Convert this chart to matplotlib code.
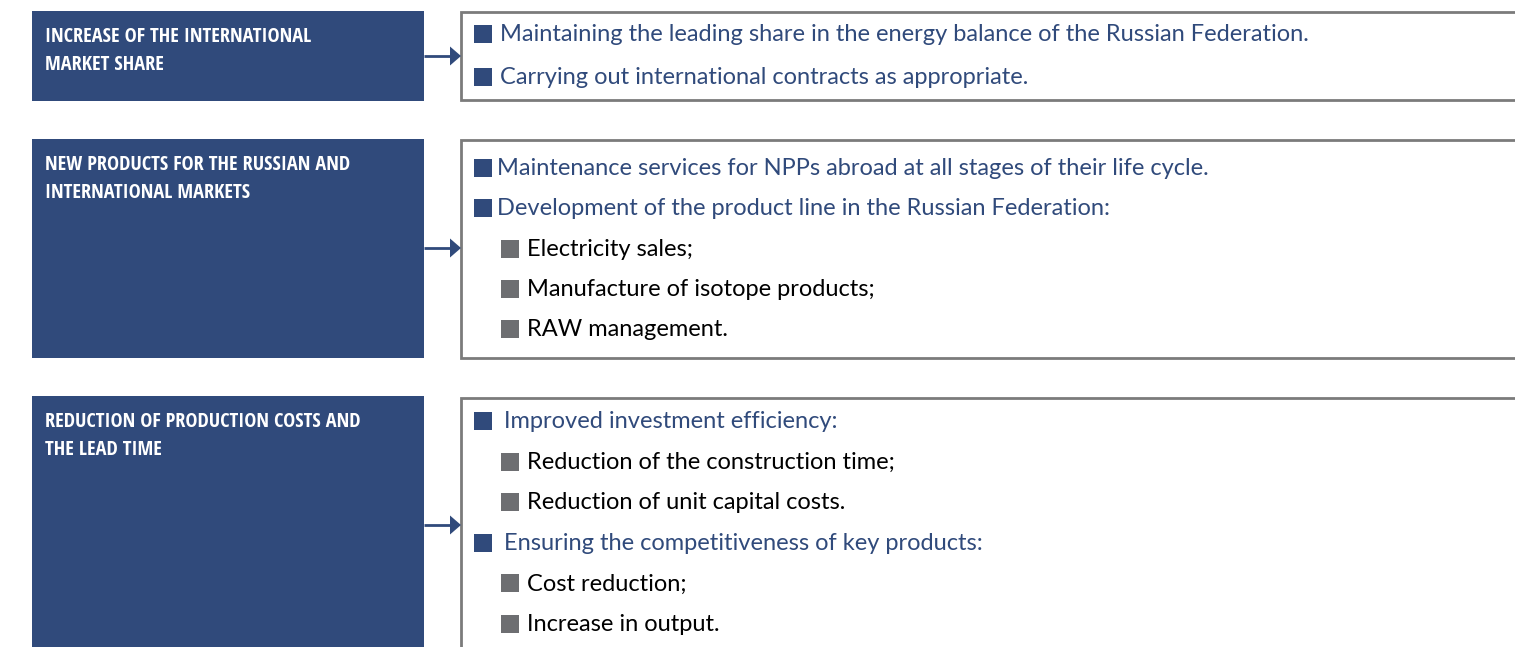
import matplotlib
matplotlib.use("Agg")
import matplotlib.pyplot as plt
from matplotlib.patches import Rectangle, Polygon

# ---------------- content ----------------
titles = [
    ["INCREASE OF THE INTERNATIONAL", "MARKET SHARE"],
    ["NEW PRODUCTS FOR THE RUSSIAN AND", "INTERNATIONAL MARKETS"],
    ["REDUCTION OF PRODUCTION COSTS AND", "THE LEAD TIME"],
]
items_1 = [
    (1, "Maintaining the leading share in the energy balance of the Russian Federation."),
    (1, "Carrying out international contracts as appropriate."),
]
items_2 = [
    (1, "Maintenance services for NPPs abroad at all stages of their life cycle."),
    (1, "Development of the product line in the Russian Federation:"),
    (2, "Electricity sales;"),
    (2, "Manufacture of isotope products;"),
    (2, "RAW management."),
]
items_3 = [
    (1, "Improved investment efficiency:"),
    (2, "Reduction of the construction time;"),
    (2, "Reduction of unit capital costs."),
    (1, "Ensuring the competitiveness of key products:"),
    (2, "Cost reduction;"),
    (2, "Increase in output."),
]
items = [items_1, items_2, items_3]

# ---------------- style / layout ----------------
BLUE = "#304a7b"
GRAY_BORDER = "#7b7b7b"
GRAY_BULLET = "#6d6e71"
W, H = 1515, 647

left_x = (32, 424)
right_x = (461, 1522)
left_y = [(11, 101), (139, 358), (396, 660)]
right_y = [(12, 100), (140, 358), (398, 670)]
arrow_y = [56, 248, 525]
item_first = [33, 167, 420]
item_step = [43, 40.3, 40.6]
l1_text_x = [500, 497, 504]

fig = plt.figure(figsize=(W / 100, H / 100), dpi=100)
ax = fig.add_axes([0, 0, 1, 1])
ax.set_xlim(0, W)
ax.set_ylim(H, 0)
ax.axis("off")

renderer = fig.canvas.get_renderer()

def fit_size(s, target, **kw):
    t = ax.text(0, 0, s, fontsize=20, **kw)
    w = t.get_window_extent(renderer).width
    t.remove()
    return 20 * target / w

title_kw = dict(family=["Open Sans Condensed", "Roboto Condensed", "DejaVu Sans"],
                weight="bold", stretch="condensed")
body_kw = dict(family=["Lato", "DejaVu Sans"])
title_fs = fit_size("INCREASE OF THE INTERNATIONAL", 267, **title_kw)
body_fs = fit_size(items_1[0][1], 815, **body_kw)

for b in range(3):
    y0, y1 = left_y[b]
    ax.add_patch(Rectangle((left_x[0], y0), left_x[1] - left_x[0], y1 - y0,
                           facecolor=BLUE, edgecolor="none"))
    for k, line in enumerate(titles[b]):
        ax.text(45, y0 + 31 + 28 * k, line, color="white", fontsize=title_fs,
                va="baseline", ha="left", **title_kw)
    r0, r1 = right_y[b]
    ax.add_patch(Rectangle((right_x[0], r0), right_x[1] - right_x[0], r1 - r0,
                           facecolor="white", edgecolor=GRAY_BORDER, linewidth=2))
    ay = arrow_y[b]
    ax.plot([left_x[1], 452], [ay, ay], color=BLUE, lw=2, solid_capstyle="butt")
    ax.add_patch(Polygon([[450, ay - 9.5], [461, ay], [450, ay + 9.5]],
                         closed=True, facecolor=BLUE, edgecolor="none"))
    for i, (lvl, s) in enumerate(items[b]):
        cy = item_first[b] + item_step[b] * i
        if lvl == 1:
            bx, tx, bc, tc = 474, l1_text_x[b], BLUE, BLUE
        else:
            bx, tx, bc, tc = 501, 527, GRAY_BULLET, "black"
        ax.add_patch(Rectangle((bx, cy - 8), 18, 18, facecolor=bc, edgecolor="none"))
        ax.text(tx, cy + 8, s, color=tc, fontsize=body_fs, va="baseline",
                ha="left", **body_kw)

fig.savefig("out.png", dpi=100)
